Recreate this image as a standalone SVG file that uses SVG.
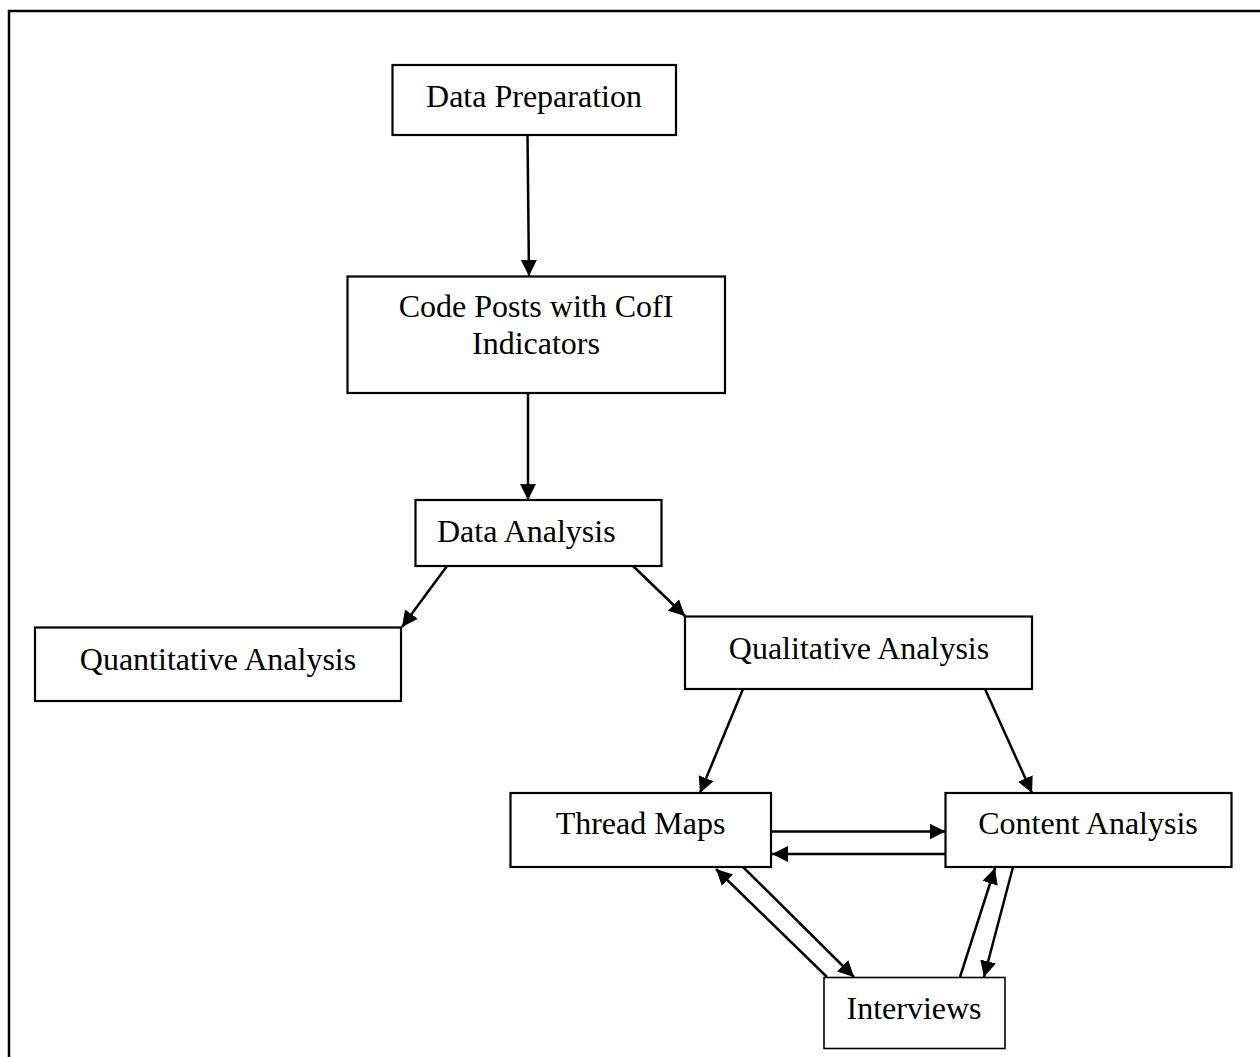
<svg xmlns="http://www.w3.org/2000/svg" width="1260" height="1057" viewBox="0 0 1260 1057">
<style>
.box{fill:#fff;stroke:#000;stroke-width:2.2}
.lbl{font-family:"Liberation Serif","Times New Roman",serif;font-size:32px;fill:#000}
.con{stroke:#000;stroke-width:2.5;fill:none;marker-end:url(#ah)}
</style>
<defs>
<marker id="ah" markerUnits="userSpaceOnUse" markerWidth="18" markerHeight="18" viewBox="0 0 18 18" refX="16" refY="9" orient="auto">
<path d="M0,1 L16,9 L0,17 z" fill="#000"/>
</marker>
</defs>
<rect width="1260" height="1057" fill="#fff"/>
<rect id="frame" x="9" y="11" width="1300" height="1100" fill="none" stroke="#000" stroke-width="2.5"/>
<g id="connectors">
<line class="con" x1="527.5" y1="135" x2="529" y2="276"/>
<line class="con" x1="528" y1="393" x2="528" y2="500"/>
<line class="con" x1="447" y1="566" x2="402" y2="627"/>
<line class="con" x1="633" y1="566" x2="685" y2="616"/>
<line class="con" x1="743" y1="689" x2="700" y2="793"/>
<line class="con" x1="985" y1="689" x2="1032" y2="793"/>
<line class="con" x1="771" y1="831.5" x2="945.5" y2="831.5"/>
<line class="con" x1="947" y1="854" x2="772" y2="854"/>
<line class="con" x1="827" y1="977" x2="716" y2="869"/>
<line class="con" x1="743" y1="867" x2="854" y2="977"/>
<line class="con" x1="960" y1="977" x2="995" y2="868"/>
<line class="con" x1="1013" y1="867" x2="984" y2="977"/>
</g>
<g id="n-prep">
<rect class="box" x="392.5" y="65" width="283.5" height="70"/>
<text class="lbl" x="534" y="107" text-anchor="middle">Data Preparation</text>
</g>
<g id="n-code">
<rect class="box" x="347.5" y="276.5" width="377.5" height="116.5"/>
<text class="lbl" x="536" y="317" text-anchor="middle">Code Posts with CofI</text>
<text class="lbl" x="536" y="354" text-anchor="middle">Indicators</text>
</g>
<g id="n-analysis">
<rect class="box" x="415.5" y="500" width="246" height="66"/>
<text class="lbl" x="437" y="542">Data Analysis</text>
</g>
<g id="n-quant">
<rect class="box" x="35" y="627.5" width="366" height="73.5"/>
<text class="lbl" x="218" y="670" text-anchor="middle">Quantitative Analysis</text>
</g>
<g id="n-qual">
<rect class="box" x="685" y="616.5" width="347" height="72.5"/>
<text class="lbl" x="859" y="659" text-anchor="middle">Qualitative Analysis</text>
</g>
<g id="n-thread">
<rect class="box" x="510.5" y="793" width="260.5" height="74"/>
<text class="lbl" x="640.5" y="834" text-anchor="middle">Thread Maps</text>
</g>
<g id="n-content">
<rect class="box" x="945.5" y="793" width="286" height="74"/>
<text class="lbl" x="1088" y="834" text-anchor="middle">Content Analysis</text>
</g>
<g id="n-interviews">
<rect class="box" x="824" y="977.5" width="181" height="71" style="stroke-width:1.6"/>
<text class="lbl" x="914" y="1019" text-anchor="middle">Interviews</text>
</g>
</svg>
